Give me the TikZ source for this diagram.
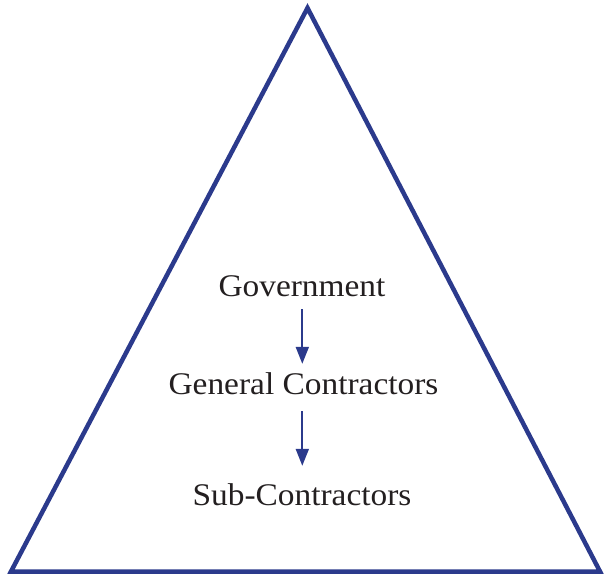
\documentclass[tikz,border=0pt]{standalone}
\usepackage{fontspec}
\setmainfont{Liberation Serif}[FakeStretch=1.06]
\usetikzlibrary{arrows.meta}
\definecolor{triblue}{HTML}{2B3A8C}
\definecolor{txtgray}{HTML}{231F20}
\begin{document}
\begin{tikzpicture}[x=1pt,y=-1pt,
  label/.style={anchor=base, inner sep=0pt, text height=22pt, text depth=0pt,
    font=\fontsize{31.5}{36}\selectfont, text=txtgray},
  flow/.style={draw=triblue, line width=2pt,
    -{Triangle[length=17pt,width=13pt]}}]
\useasboundingbox (0,0) rectangle (605,575);
\coordinate (apex) at (307.5,8);
\coordinate (br) at (600,571.5);
\coordinate (bl) at (11,571.5);
\draw[triblue, line width=4.5pt, line join=miter] (apex) -- (br) -- (bl) -- cycle;
\node[label] (gov) at (302,296) {Government};
\node[label] (gen) at (303.5,394) {General Contractors};
\node[label] (sub) at (302,505) {Sub-Contractors};
\draw[flow, shorten <=13pt, shorten >=8pt] (gov.south -| 302.3,0) -- (gen.north -| 302.3,0);
\draw[flow, shorten <=17pt, shorten >=17pt] (gen.south -| 302.3,0) -- (sub.north -| 302.3,0);
\end{tikzpicture}
\end{document}
